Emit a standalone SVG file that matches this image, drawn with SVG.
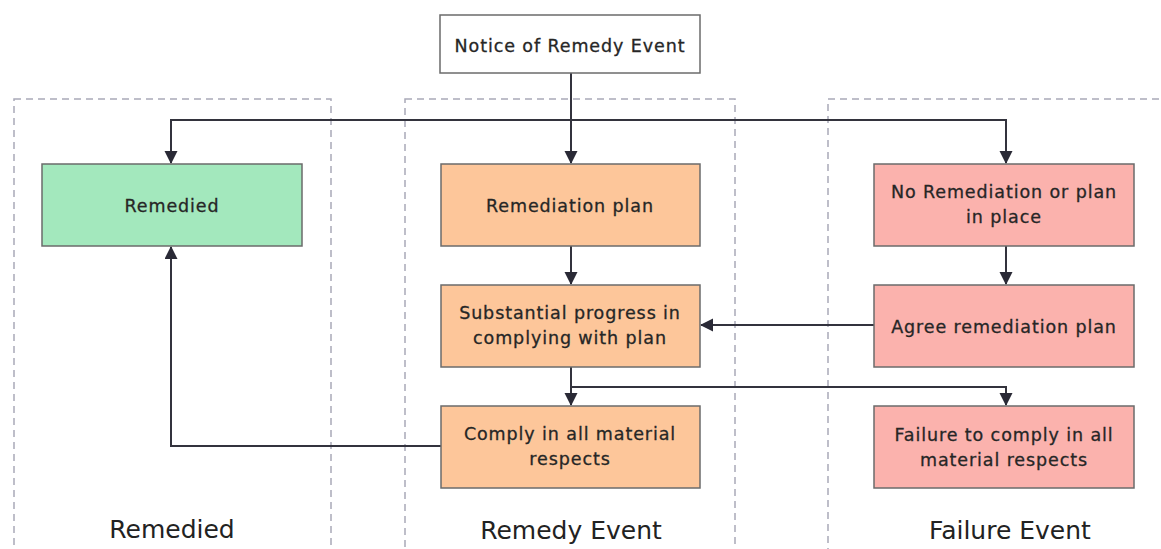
<svg xmlns="http://www.w3.org/2000/svg" width="1161" height="549" viewBox="0 0 1161 549">
<style>
.lane{fill:none;stroke:#a9a9b8;stroke-width:1.5;stroke-dasharray:7,5}
.box{stroke:#6b6b6b;stroke-width:1.5}
.t{font-family:"DejaVu Sans",sans-serif;font-size:17.5px;letter-spacing:0.9px;fill:#262626;text-anchor:middle;stroke:#262626;stroke-width:0.3}
.h{font-family:"DejaVu Sans",sans-serif;font-size:25px;fill:#222;text-anchor:middle}
.c{fill:none;stroke:#33333d;stroke-width:2}
</style>
<defs>
<marker id="ah" markerWidth="14" markerHeight="14" refX="12" refY="6.5" orient="auto" markerUnits="userSpaceOnUse">
<path d="M0,0 L13,6.5 L0,13 z" fill="#2a2a36"/>
</marker>
</defs>
<rect width="1161" height="549" fill="#ffffff"/>
<g id="lanes">
<rect class="lane" x="14" y="99" width="317" height="470"/>
<rect class="lane" x="405" y="99" width="330" height="470"/>
<rect class="lane" x="828" y="99" width="340" height="470"/>
<text class="h" x="172" y="538">Remedied</text>
<text class="h" x="571" y="539">Remedy Event</text>
<text class="h" x="1010" y="539">Failure Event</text>
</g>
<g id="connectors">
<path class="c" d="M571,73 V163" marker-end="url(#ah)"/>
<path class="c" d="M171,163 V120 H1006 V163" marker-end="url(#ah)"/>
<path class="c" d="M171,120 V163" marker-end="url(#ah)"/>
<path class="c" d="M571,246 V284" marker-end="url(#ah)"/>
<path class="c" d="M1006,246 V284" marker-end="url(#ah)"/>
<path class="c" d="M874,325 H701" marker-end="url(#ah)"/>
<path class="c" d="M571,367 V405" marker-end="url(#ah)"/>
<path class="c" d="M571,387 H1006 V405" marker-end="url(#ah)"/>
<path class="c" d="M441,446 H171 V247" marker-end="url(#ah)"/>
</g>
<g id="notice">
<rect class="box" x="440" y="15" width="260" height="58" fill="#ffffff"/>
<text class="t" x="570" y="52">Notice of Remedy Event</text>
</g>
<g id="remedied">
<rect class="box" x="42" y="164" width="260" height="82" fill="#a3e8bd"/>
<text class="t" x="172" y="212">Remedied</text>
</g>
<g id="remediation-plan">
<rect class="box" x="441" y="164" width="259" height="82" fill="#fdc69a"/>
<text class="t" x="570" y="212">Remediation plan</text>
</g>
<g id="no-remediation">
<rect class="box" x="874" y="164" width="260" height="82" fill="#fbb2ad"/>
<text class="t" x="1004" y="198">No Remediation or plan</text>
<text class="t" x="1004" y="223">in place</text>
</g>
<g id="substantial-progress">
<rect class="box" x="441" y="285" width="259" height="82" fill="#fdc69a"/>
<text class="t" x="570" y="319">Substantial progress in</text>
<text class="t" x="570" y="344">complying with plan</text>
</g>
<g id="agree-plan">
<rect class="box" x="874" y="285" width="260" height="82" fill="#fbb2ad"/>
<text class="t" x="1004" y="333">Agree remediation plan</text>
</g>
<g id="comply">
<rect class="box" x="441" y="406" width="259" height="82" fill="#fdc69a"/>
<text class="t" x="570" y="440">Comply in all material</text>
<text class="t" x="570" y="465">respects</text>
</g>
<g id="failure">
<rect class="box" x="874" y="406" width="260" height="82" fill="#fbb2ad"/>
<text class="t" x="1004" y="441">Failure to comply in all</text>
<text class="t" x="1004" y="466">material respects</text>
</g>
</svg>
